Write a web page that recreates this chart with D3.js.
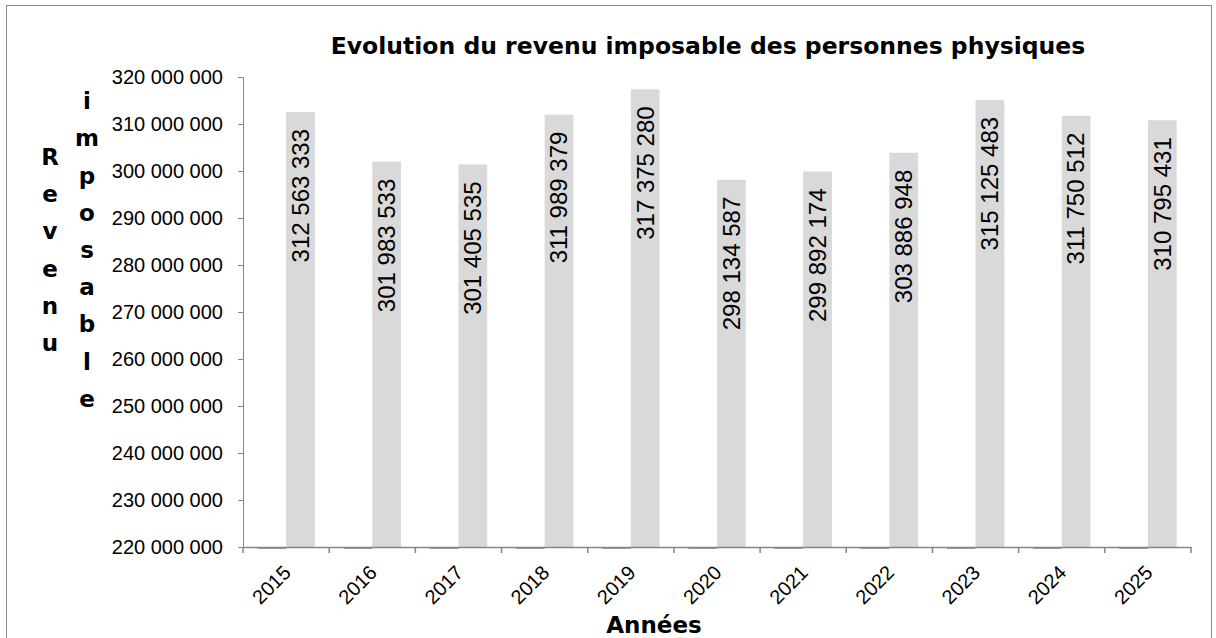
<!DOCTYPE html>
<html>
<head>
<meta charset="utf-8">
<script src="https://cdn.jsdelivr.net/npm/d3@7"></script>
<style>
  html, body { margin: 0; padding: 0; background: #fff; }
  svg { display: block; }
</style>
</head>
<body>
<svg id="chart" width="1216" height="638"></svg>
<script>
const years = ["2015","2016","2017","2018","2019","2020","2021","2022","2023","2024","2025"];
const revenu = [312563333, 301983533, 301405535, 311989379, 317375280, 298134587, 299892174, 303886948, 315125483, 311750512, 310795431];
const serieVide = [0, 0, 0, 0, 0, 0, 0, 0, 0, 0, 0];
const yTicks = [220000000, 230000000, 240000000, 250000000, 260000000, 270000000, 280000000, 290000000, 300000000, 310000000, 320000000];
const title = "Evolution du revenu imposable des personnes physiques";
const yTitleCols = ["Revenu", "imposable"];
const xTitle = "Années";

const fr = d3.formatLocale({decimal: ",", thousands: " ", grouping: [3], currency: ["", " €"]});
const fmt = fr.format(",.0f");

const svg = d3.select("#chart");
const W = 1216, H = 638;
const plot = {left: 243, right: 1191, top: 77, bottom: 547};

svg.append("rect").attr("x", 0).attr("y", 0).attr("width", W).attr("height", H).attr("fill", "#fff");
svg.append("rect").attr("x", 6.5).attr("y", 5.5).attr("width", 1205).attr("height", 660)
  .attr("fill", "none").attr("stroke", "#8c8c8c").attr("stroke-width", 1);

const x = d3.scaleBand().domain(years).range([plot.left, plot.right]).paddingInner(0).paddingOuter(0);
const y = d3.scaleLinear().domain([220000000, 320000000]).range([plot.bottom, plot.top]);
const inner = d3.scaleBand().domain(["vide", "revenu"]).range([0, x.bandwidth()]).paddingInner(0).paddingOuter(0.5);

// y axis
const yAxis = d3.axisLeft(y).tickValues(yTicks).tickSize(5).tickPadding(15).tickFormat(d => fmt(d));
const gy = svg.append("g").attr("transform", `translate(${plot.left},0)`).call(yAxis);
gy.select(".domain").attr("stroke", "#868686");
gy.selectAll(".tick line").attr("stroke", "#868686");
gy.selectAll(".tick text").attr("font-family", "Arial, 'Liberation Sans', sans-serif").attr("font-size", 20).attr("fill", "#000");

// bars
const g = svg.append("g");
g.selectAll("rect.rev").data(years).join("rect")
  .attr("class", "rev")
  .attr("x", (d) => x(d) + inner("revenu"))
  .attr("width", inner.bandwidth())
  .attr("y", (d, i) => y(revenu[i]))
  .attr("height", (d, i) => plot.bottom - y(revenu[i]))
  .attr("fill", "#d9d9d9");

// empty series (drawn at the baseline)
g.selectAll("line.vide").data(years).join("line")
  .attr("class", "vide")
  .attr("x1", d => x(d) + inner("vide"))
  .attr("x2", d => x(d) + inner("vide") + inner.bandwidth())
  .attr("y1", (d, i) => y(Math.max(serieVide[i], y.domain()[0])) + 1.5)
  .attr("y2", (d, i) => y(Math.max(serieVide[i], y.domain()[0])) + 1.5)
  .attr("stroke", "#a0a0a0").attr("stroke-width", 1);

// x axis
const xAxis = d3.axisBottom(x).tickSize(0).tickFormat("");
const gx = svg.append("g").attr("transform", `translate(0,${plot.bottom})`).call(xAxis);
gx.select(".domain").attr("stroke", "#868686").attr("stroke-width", 1.5);
const bounds = years.map(d => x(d)).concat([plot.right]);
gx.selectAll("line.sep").data(bounds).join("line")
  .attr("class", "sep")
  .attr("x1", d => d).attr("x2", d => d).attr("y1", 0).attr("y2", 6)
  .attr("stroke", "#868686").attr("stroke-width", 1.5);
gx.selectAll("text.lbl").data(years).join("text")
  .attr("class", "lbl")
  .attr("transform", d => `translate(${x(d) + x.bandwidth() / 2 + 1},${22}) rotate(-45)`)
  .attr("text-anchor", "end")
  .attr("dy", "0.35em")
  .attr("font-family", "Arial, 'Liberation Sans', sans-serif").attr("font-size", 20).attr("fill", "#000")
  .text(d => d);

// value labels
g.selectAll("text.val").data(years).join("text")
  .attr("class", "val")
  .attr("transform", (d, i) => `translate(${x(d) + inner("revenu") + inner.bandwidth() / 2},${y(revenu[i]) + 17}) rotate(-90)`)
  .attr("text-anchor", "end")
  .attr("dy", "0.35em")
  .attr("font-family", "Arial, 'Liberation Sans', sans-serif").attr("font-size", 24).attr("fill", "#000")
  .text((d, i) => fmt(revenu[i]));

// title
svg.append("text").attr("x", 708).attr("y", 54).attr("text-anchor", "middle")
  .attr("font-family", "'DejaVu Sans', Verdana, sans-serif").attr("font-weight", "bold").attr("font-size", 23.5)
  .attr("fill", "#000").text(title);

// x title
svg.append("text").attr("x", 654).attr("y", 633).attr("text-anchor", "middle")
  .attr("font-family", "'DejaVu Sans', Verdana, sans-serif").attr("font-weight", "bold").attr("font-size", 23)
  .attr("fill", "#000").text(xTitle);

// y title (stacked letters, two columns)
const colX = [50, 87];
const step = 37.2;
const centerY = 250;
yTitleCols.forEach((word, c) => {
  const letters = Array.from(word);
  const start = centerY - (letters.length - 1) * step / 2;
  svg.append("g").selectAll("text").data(letters).join("text")
    .attr("x", colX[c]).attr("y", (d, i) => start + i * step)
    .attr("dy", "0.35em")
    .attr("text-anchor", "middle")
    .attr("font-family", "'DejaVu Sans', Verdana, sans-serif").attr("font-weight", "bold").attr("font-size", 23)
    .attr("fill", "#000").text(d => d);
});
</script>
</body>
</html>
